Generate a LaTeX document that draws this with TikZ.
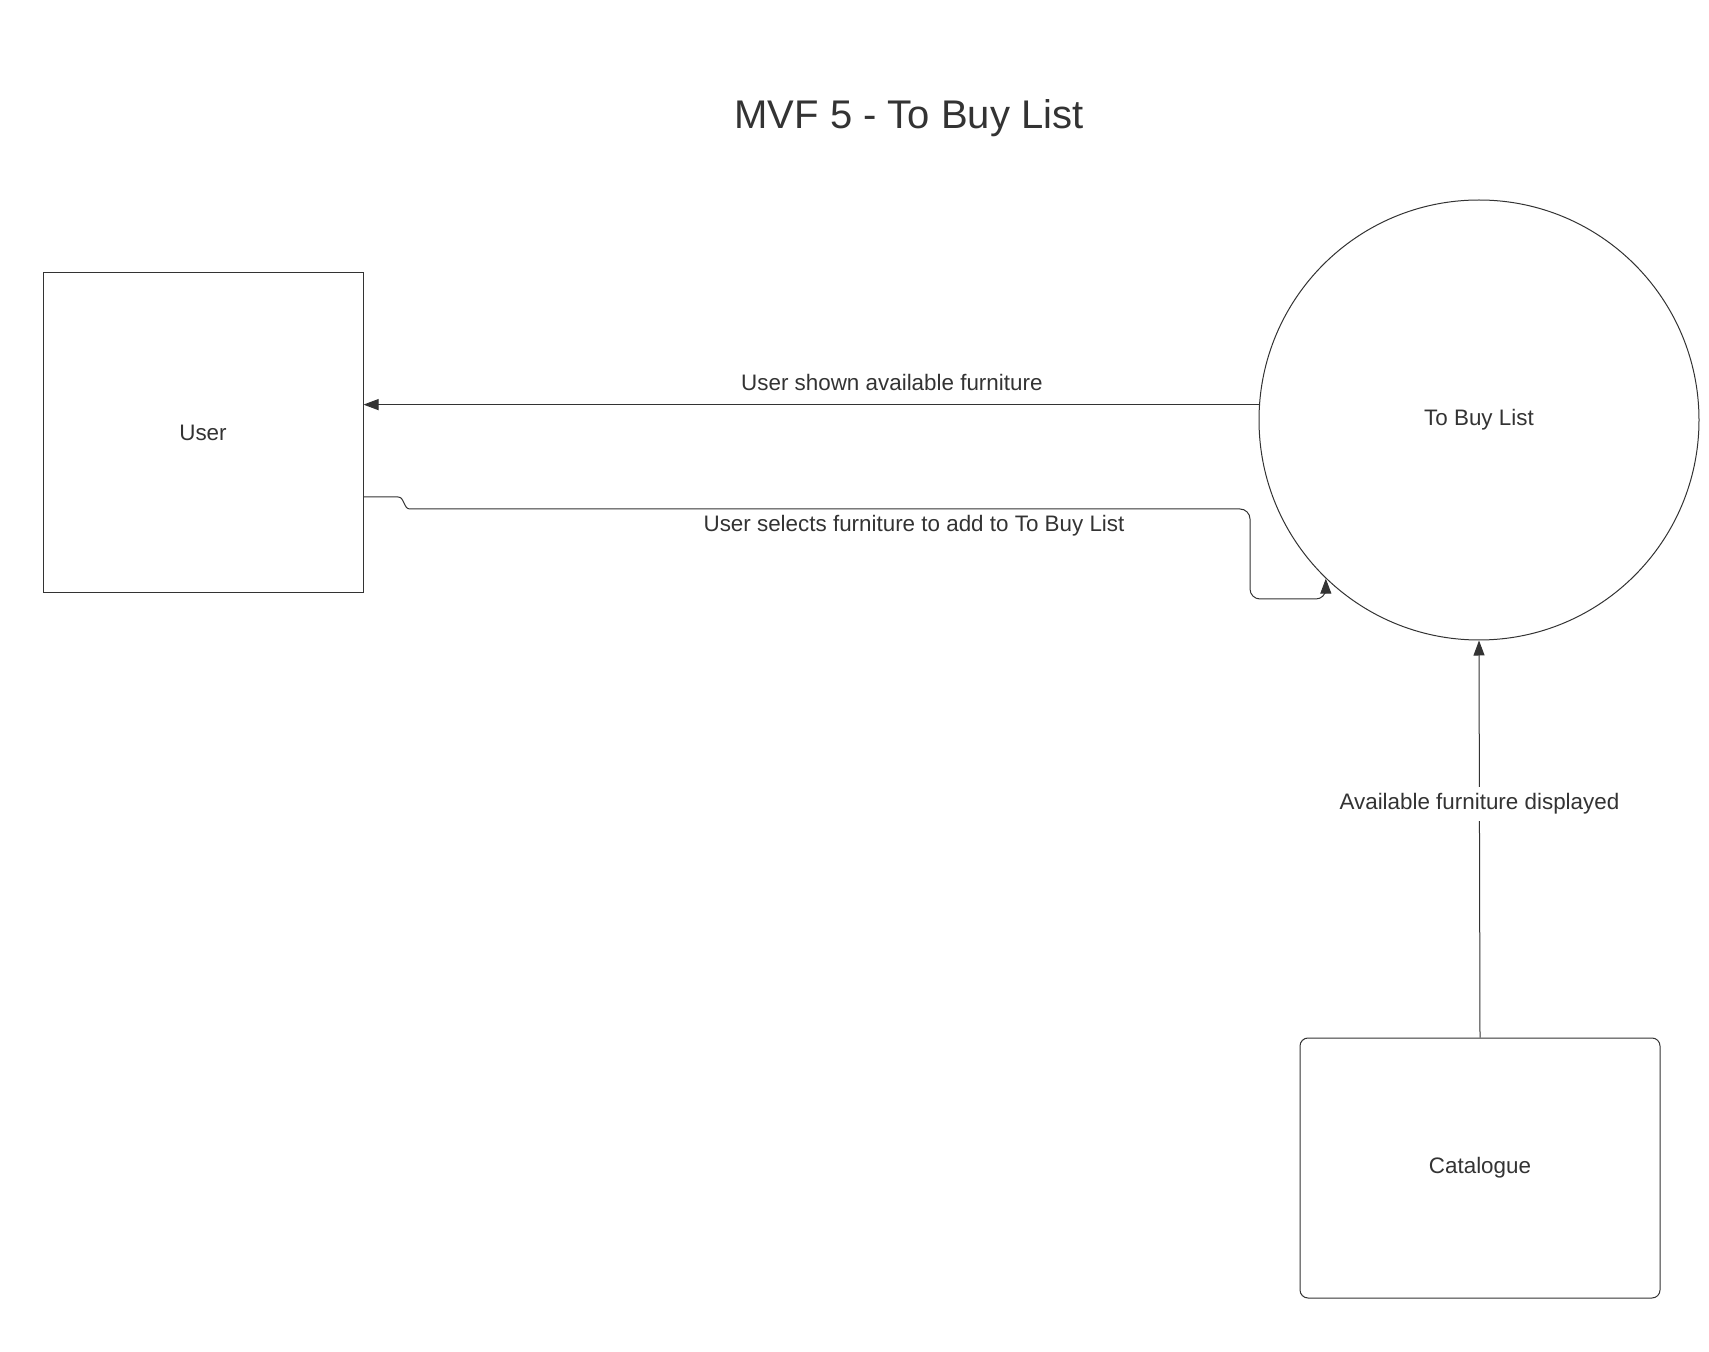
\documentclass[tikz,border=0pt]{standalone}
\usepackage{fontspec}
\setmainfont{Liberation Sans}
\usetikzlibrary{arrows.meta}
\definecolor{ink}{HTML}{333333}
\begin{document}
\begin{tikzpicture}[x=.5pt, y=-.5pt, >={Triangle[width=5.5pt,length=7.5pt]},
  every node/.style={text=ink, font=\fontsize{11.2}{13}\selectfont},
  entity/.style={draw=ink, line width=.5pt, rectangle},
  process/.style={draw=ink, line width=.5pt, circle, minimum size=220pt},
  flow/.style={->, draw=ink, line width=.5pt}]
\useasboundingbox (0,0) rectangle (1709,1352);
\node[font=\fontsize{20}{24}\selectfont] (title) at (909,118) {MVF 5 - To Buy List};
\node[entity, minimum width=160pt, minimum height=160pt] (user) at (203,433) {User};
\node[process] (tbl) at (1479,420) {To Buy List};
\node[entity, rounded corners=4pt, minimum width=180pt, minimum height=130pt] (cat) at (1480,1168) {Catalogue};
% shown furniture
\draw[flow] (tbl.176.4) -- node[pos=.41, anchor=base, yshift=7pt]{User shown available furniture} (tbl.176.4 -| user.east);
% selection, with a line jump
\coordinate (j1) at (398,497);
\coordinate (j2) at (410,509);
\coordinate (c1) at (1250,509);
\coordinate (c2) at (1250,599);
\coordinate (tip) at (tbl.226);
\draw[flow] ([yshift=-32pt]user.east) -- (j1) .. controls (405,497) and (403,509) .. (j2)
  [rounded corners=5pt] -- node[pos=.6, anchor=base, yshift=-11.2pt]{User selects furniture to add to To Buy List} (c1)
  -- (c2) -- (c2 -| tip) -- (tip);
% catalogue feed
\draw[flow] (cat.north) -- node[pos=.574, anchor=base, fill=white]{Available furniture displayed} (tbl.south);
\end{tikzpicture}
\end{document}
